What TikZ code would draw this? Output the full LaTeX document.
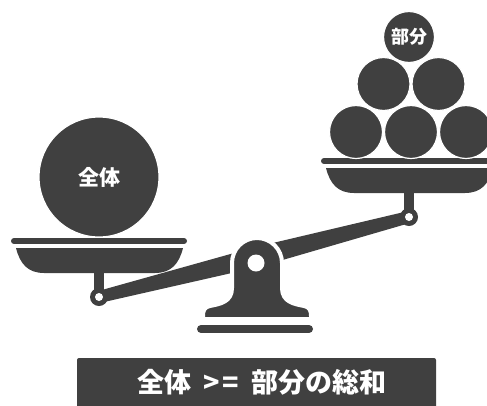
\documentclass[tikz,border=0pt]{standalone}
\usepackage{fontspec}
\newfontfamily\jp{Noto Sans CJK JP}
\usepackage{tikz}
\definecolor{ink}{HTML}{404040}
\tikzset{
  cut/.style={draw=white, line width=4pt},
  ball/.style={circle, fill=ink, draw=white, line width=1.2pt, inner sep=0pt, minimum size=53pt, text=white},
  lbl/.style={text=white, font=\jp\bfseries\fontsize{27}{27}\selectfont},
  pan/.pic={
    \fill[ink] (-5,-28) rectangle (5,0);
    \draw[ink, line width=6pt, line cap=round] (-85,-56) -- (85,-56);
    \fill[ink] (-83,-49) -- (84,-49) .. controls (80,-33) and (72,-24) .. (56,-24)
      -- (-55,-24) .. controls (-71,-24) and (-79,-33) .. (-83,-49) -- cycle;
    \fill[ink] (0,0) circle (9);
    \fill[white] (0,0) circle (4);
  }
}

\begin{document}
\begin{tikzpicture}[x=1pt, y=-1pt]
  \useasboundingbox (0,0) rectangle (487,405);
  \coordinate (PL) at (99,297);
  \coordinate (PR) at (409,217);

  % beam, thicker in the middle
  \fill[ink] (97.5,291.2) -- (254.5,247.3) -- (407.5,211.2)
    -- (410.5,222.8) -- (259.5,266.7) -- (100.5,302.8) -- cycle;

  \pic at (PL) {pan};
  \pic at (PR) {pan};

  \node[ball, minimum size=120pt, font=\jp\bfseries\fontsize{21}{21}\selectfont] (whole) at (99,177) {全体};

  \node[ball] (b1) at (356,132) {};
  \node[ball] (b2) at (411,132) {};
  \node[ball] (b3) at (466,132) {};
  \node[ball] (b4) at (383.5,84) {};
  \node[ball] (b5) at (438.5,84) {};
  \node[ball, minimum size=51pt, font=\jp\bfseries\fontsize{18}{18}\selectfont] (part) at (409,37) {部分};

  % fulcrum
  \path[fill=ink, cut] (232,263) arc[start angle=180, end angle=360, radius=25]
    -- (282,288) .. controls (282,302) and (294,304) .. (304,306)
    .. controls (310,307) and (311,311) .. (311,316) -- (311,319)
    -- (203,319) -- (203,316) .. controls (203,311) and (204,307) .. (210,306)
    .. controls (220,304) and (232,302) .. (232,288) -- cycle;
  \fill[white] (256,263) circle (8.5);
  \draw[ink, line width=8pt, line cap=round] (201,329) -- (309,329);

  \fill[ink, rounded corners=2pt] (77,358) rectangle (436,412);
  \node[lbl] (eq) at (262,382) {全体\hspace{.45em}>\hspace{.1em}=\hspace{.45em}部分の総和};
\end{tikzpicture}
\end{document}
